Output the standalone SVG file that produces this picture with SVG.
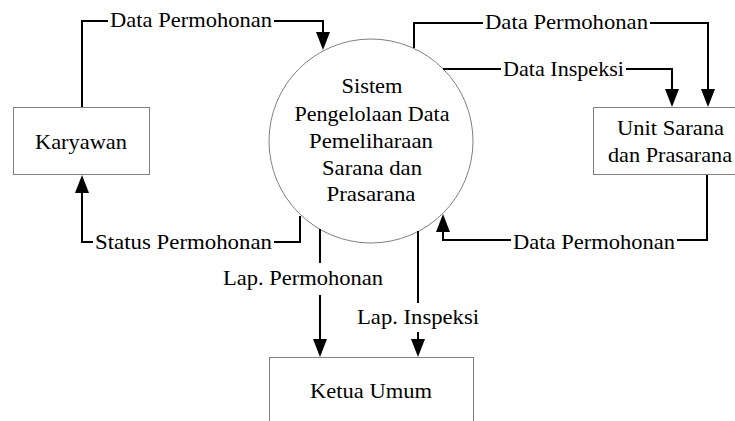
<svg xmlns="http://www.w3.org/2000/svg" width="735" height="421" viewBox="0 0 735 421">
  <style>
    .box { fill: #ffffff; stroke: #808080; stroke-width: 1; }
    .flow { fill: none; stroke: #000000; stroke-width: 2; marker-end: url(#arrow); }
    .lbl { font-family: 'Liberation Serif', 'Times New Roman', 'DejaVu Serif', serif; font-size: 22px; fill: #000000; }
  </style>
  <defs>
    <marker id="arrow" markerUnits="userSpaceOnUse" markerWidth="18" markerHeight="14" refX="15" refY="7" orient="auto">
      <path d="M0,0 L18,7 L0,14 Z" fill="#000000"/>
    </marker>
  </defs>
  <rect width="735" height="421" fill="#ffffff"/>

  <!-- external entities and the process -->
  <g id="karyawan">
    <rect class="box" x="13.5" y="107.5" width="136" height="67"/>
    <text class="lbl" x="81" y="149" text-anchor="middle" textLength="92" lengthAdjust="spacingAndGlyphs">Karyawan</text>
  </g>
  <g id="sistem">
    <circle cx="371" cy="141" r="102" fill="#ffffff" stroke="#808080" stroke-width="1"/>
    <text class="lbl" x="372" y="93" text-anchor="middle" textLength="61" lengthAdjust="spacingAndGlyphs">Sistem</text>
    <text class="lbl" x="372" y="121" text-anchor="middle" textLength="155" lengthAdjust="spacingAndGlyphs">Pengelolaan Data</text>
    <text class="lbl" x="371" y="148" text-anchor="middle" textLength="124" lengthAdjust="spacingAndGlyphs">Pemeliharaan</text>
    <text class="lbl" x="372" y="175" text-anchor="middle" textLength="100" lengthAdjust="spacingAndGlyphs">Sarana dan</text>
    <text class="lbl" x="371" y="201" text-anchor="middle" textLength="89" lengthAdjust="spacingAndGlyphs">Prasarana</text>
  </g>
  <g id="unit-sarana">
    <rect class="box" x="593.5" y="107.5" width="160" height="67"/>
    <text class="lbl" x="670.5" y="135" text-anchor="middle" textLength="107" lengthAdjust="spacingAndGlyphs">Unit Sarana</text>
    <text class="lbl" x="670" y="162" text-anchor="middle" textLength="124" lengthAdjust="spacingAndGlyphs">dan Prasarana</text>
  </g>
  <g id="ketua-umum">
    <rect class="box" x="269.5" y="357.5" width="204" height="80"/>
    <text class="lbl" x="371" y="398" text-anchor="middle" textLength="122" lengthAdjust="spacingAndGlyphs">Ketua Umum</text>
  </g>

  <!-- data flows -->
  <g id="connectors">
    <path class="flow" d="M82,107 V21 H108 M274,21 H323 V47"/>
    <path class="flow" d="M414,48 V23 H483 M650,23 H708 V104"/>
    <path class="flow" d="M443,69 H501 M626,69 H672 V104"/>
    <path class="flow" d="M707,175 V240 H677 M511,240 H443 V217"/>
    <path class="flow" d="M300,216 V242 H274 M93,242 H82 V178"/>
    <path class="flow" d="M320,229 V263 M320,295 V354"/>
    <path class="flow" d="M418,231 V303 M418,332 V354"/>

    <text class="lbl" x="110" y="27" textLength="162" lengthAdjust="spacingAndGlyphs">Data Permohonan</text>
    <text class="lbl" x="485" y="29" textLength="163" lengthAdjust="spacingAndGlyphs">Data Permohonan</text>
    <text class="lbl" x="503" y="76" textLength="121" lengthAdjust="spacingAndGlyphs">Data Inspeksi</text>
    <text class="lbl" x="513" y="249" textLength="162" lengthAdjust="spacingAndGlyphs">Data Permohonan</text>
    <text class="lbl" x="95" y="249" textLength="177" lengthAdjust="spacingAndGlyphs">Status Permohonan</text>
    <text class="lbl" x="223" y="285" textLength="160" lengthAdjust="spacingAndGlyphs">Lap. Permohonan</text>
    <text class="lbl" x="357" y="324" textLength="122" lengthAdjust="spacingAndGlyphs">Lap. Inspeksi</text>
  </g>
</svg>
